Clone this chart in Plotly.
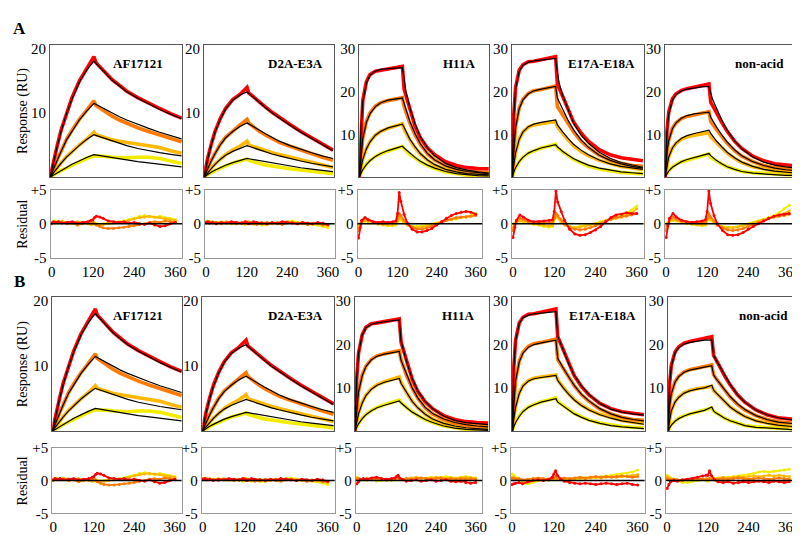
import plotly.graph_objects as go

W, H = 800, 535

# time grids (s)
T = [0, 5, 10, 20, 30, 45, 60, 80, 100, 120, 125, 130, 140, 155, 170, 190, 210, 240, 270, 300, 330, 360]
RT = [0, 5, 10, 20, 30, 45, 60, 75, 90, 105, 115, 120, 125, 130, 140, 150, 165, 180, 195, 210,
      225, 240, 255, 270, 285, 300, 315, 330, 345, 360]

NAMES = ["AF17121", "D2A-E3A", "H11A", "E17A-E18A", "non-acid"]
# concentration order: highest (red) -> lowest (yellow)
COLORS = ["#FF0000", "#FF7A00", "#FFB800", "#F2EC00"]
XTICKS = [0, 120, 240, 360]

# ---------------- sensorgram data (same in A and B) ----------------
AF17121_DATA = [
    [0, 1.4, 2.7, 5.0, 7.3, 10.0, 12.4, 15.0, 16.9, 18.8, 17.9, 17.6, 17.0, 16.1, 15.2, 14.3, 13.4, 12.4, 11.5, 10.7, 9.9, 9.2],
    [0, 0.8, 1.5, 2.8, 4.0, 5.9, 7.3, 9.0, 10.4, 11.9, 11.2, 11.0, 10.6, 10.0, 9.5, 8.9, 8.4, 7.7, 7.1, 6.6, 6.0, 5.5],
    [0, 0.4, 0.8, 1.5, 2.2, 3.2, 4.0, 5.0, 5.9, 7.0, 6.6, 6.5, 6.3, 6.0, 5.8, 5.6, 5.4, 5.1, 4.9, 4.6, 4.1, 3.7],
    [0, 0.2, 0.4, 0.7, 1.0, 1.4, 1.9, 2.4, 2.9, 3.3, 3.3, 3.3, 3.3, 3.2, 3.1, 3.0, 3.0, 3.1, 3.1, 2.9, 2.5, 2.1],
]
D2A_E3A_DATA = [
    [0, 1.6, 2.9, 5.1, 7.0, 9.1, 10.7, 12.1, 12.9, 14.0, 13.1, 12.9, 12.4, 11.7, 11.0, 10.1, 9.3, 8.2, 7.1, 6.1, 5.1, 4.2],
    [0, 0.8, 1.4, 2.6, 3.7, 5.1, 6.2, 7.2, 8.1, 9.0, 8.4, 8.2, 7.7, 7.1, 6.6, 6.0, 5.4, 4.8, 4.2, 3.6, 3.1, 2.6],
    [0, 0.4, 0.8, 1.4, 2.0, 2.8, 3.5, 4.2, 4.8, 5.6, 5.0, 4.9, 4.7, 4.4, 4.1, 3.8, 3.5, 3.1, 2.7, 2.3, 1.9, 1.5],
    [0, 0.2, 0.4, 0.7, 1.0, 1.4, 1.8, 2.2, 2.5, 2.8, 2.6, 2.5, 2.3, 2.1, 1.9, 1.7, 1.5, 1.3, 1.1, 0.9, 0.7, 0.5],
]
H11A_DATA = [
    [0, 12.0, 18.0, 22.3, 24.0, 24.8, 25.0, 25.3, 25.6, 25.9, 20.5, 19.0, 15.8, 12.0, 9.2, 6.8, 5.2, 3.6, 2.7, 2.2, 2.0, 1.9],
    [0, 5.6, 9.2, 13.0, 15.0, 16.6, 17.4, 17.9, 18.2, 18.6, 16.5, 15.3, 12.8, 9.9, 7.6, 5.4, 4.0, 2.7, 1.9, 1.4, 1.1, 1.0],
    [0, 2.4, 4.2, 6.7, 8.3, 9.8, 10.7, 11.4, 11.9, 12.5, 11.2, 10.4, 8.8, 6.9, 5.4, 3.9, 2.8, 1.8, 1.2, 0.8, 0.6, 0.5],
    [0, 1.0, 1.8, 3.0, 3.9, 4.8, 5.5, 6.1, 6.6, 7.2, 6.6, 6.2, 5.4, 4.5, 3.6, 2.7, 2.0, 1.2, 0.7, 0.4, 0.3, 0.2],
]
E17A_E18A_DATA = [
    [0, 14.5, 21.0, 25.0, 26.3, 27.0, 27.1, 27.4, 27.8, 28.2, 21.8, 20.8, 18.5, 15.4, 12.8, 10.3, 8.4, 6.4, 5.2, 4.5, 4.1, 3.8],
    [0, 7.2, 11.8, 16.2, 18.2, 19.6, 20.2, 20.5, 20.8, 21.3, 16.5, 15.8, 14.5, 12.4, 10.5, 8.4, 6.9, 5.1, 4.0, 3.2, 2.7, 2.5],
    [0, 3.1, 5.7, 8.9, 10.5, 11.7, 12.2, 12.5, 12.8, 13.0, 11.8, 11.2, 10.1, 8.6, 7.3, 6.0, 5.0, 3.9, 3.1, 2.5, 2.1, 1.8],
    [0, 1.2, 2.2, 3.6, 4.6, 5.6, 6.2, 6.8, 7.2, 7.7, 6.8, 6.5, 5.8, 4.9, 4.1, 3.3, 2.6, 1.9, 1.4, 1.1, 0.9, 0.8],
]
NON_ACID_DATA = [
    [0, 10.8, 15.2, 18.3, 19.5, 20.3, 20.7, 21.0, 21.3, 21.8, 17.5, 16.6, 15.2, 12.8, 10.7, 8.4, 6.7, 4.9, 3.8, 3.1, 2.8, 2.6],
    [0, 6.0, 8.7, 11.4, 12.7, 13.7, 14.2, 14.6, 14.9, 15.3, 13.0, 12.3, 11.2, 9.5, 7.9, 6.2, 4.9, 3.6, 2.7, 2.2, 1.9, 1.7],
    [0, 2.9, 4.8, 6.8, 7.9, 8.9, 9.4, 9.8, 10.1, 10.4, 9.4, 9.0, 8.1, 6.8, 5.6, 4.4, 3.4, 2.4, 1.8, 1.4, 1.2, 1.0],
    [0, 0.9, 1.5, 2.4, 3.0, 3.6, 4.0, 4.5, 4.9, 5.4, 4.6, 4.3, 3.7, 3.0, 2.4, 1.8, 1.3, 1.0, 0.8, 0.6, 0.5, 0.4],
]

# ---------------- fitted curves ----------------
AF17121_FIT = [
    [0, 1.3, 2.6, 4.9, 7.1, 9.9, 12.2, 14.8, 16.7, 18.1, 17.8, 17.5, 16.9, 16.0, 15.1, 14.2, 13.3, 12.3, 11.4, 10.55, 9.8, 9.1],
    [0, 0.7, 1.4, 2.7, 4.0, 5.8, 7.2, 8.9, 10.3, 11.5, 11.35, 11.2, 10.9, 10.4, 9.9, 9.4, 8.9, 8.2, 7.6, 7.0, 6.45, 5.95],
    [0, 0.38, 0.75, 1.45, 2.15, 3.1, 3.95, 4.95, 5.85, 6.6, 6.5, 6.4, 6.2, 5.9, 5.6, 5.25, 4.9, 4.45, 4.1, 3.8, 3.55, 3.3],
    [0, 0.18, 0.35, 0.7, 1.03, 1.5, 2.0, 2.55, 3.05, 3.5, 3.45, 3.4, 3.3, 3.15, 3.0, 2.8, 2.6, 2.4, 2.2, 2.0, 1.8, 1.6],
]
D2A_E3A_FIT = [
    [0, 1.5, 2.8, 5.0, 6.9, 9.0, 10.6, 12.0, 12.8, 13.3, 13.05, 12.8, 12.3, 11.6, 10.9, 10.0, 9.2, 8.1, 7.0, 6.0, 5.0, 4.1],
    [0, 0.7, 1.35, 2.5, 3.6, 5.0, 6.1, 7.1, 7.9, 8.45, 8.3, 8.15, 7.8, 7.3, 6.8, 6.2, 5.6, 4.9, 4.3, 3.8, 3.3, 2.9],
    [0, 0.35, 0.7, 1.35, 1.95, 2.75, 3.4, 4.0, 4.5, 4.9, 4.8, 4.7, 4.5, 4.2, 3.95, 3.6, 3.3, 2.85, 2.5, 2.15, 1.85, 1.6],
    [0, 0.2, 0.4, 0.75, 1.05, 1.5, 1.85, 2.25, 2.6, 2.9, 2.85, 2.8, 2.65, 2.5, 2.35, 2.15, 1.95, 1.7, 1.45, 1.25, 1.05, 0.85],
]
H11A_FIT_A = [
    [0, 11.5, 17.5, 22.0, 23.8, 24.8, 25.2, 25.4, 25.5, 25.6, 22.5, 20.0, 16.5, 12.5, 9.5, 6.8, 5.0, 3.2, 2.2, 1.6, 1.2, 0.9],
    [0, 5.5, 9.0, 12.8, 14.8, 16.5, 17.4, 18.0, 18.3, 18.5, 17.2, 15.8, 13.2, 10.2, 7.8, 5.5, 4.0, 2.6, 1.8, 1.3, 1.0, 0.8],
    [0, 2.3, 4.1, 6.6, 8.2, 9.8, 10.7, 11.5, 12.0, 12.4, 11.6, 10.7, 9.0, 7.1, 5.5, 4.0, 2.9, 1.8, 1.2, 0.8, 0.6, 0.5],
    [0, 0.9, 1.7, 2.9, 3.8, 4.8, 5.5, 6.2, 6.7, 7.2, 6.8, 6.4, 5.6, 4.6, 3.7, 2.8, 2.1, 1.3, 0.8, 0.5, 0.35, 0.25],
]
H11A_FIT_B = [
    [0, 12.3, 18.0, 22.2, 23.9, 24.7, 25.0, 25.3, 25.5, 25.7, 20.8, 19.2, 16.0, 12.2, 9.3, 6.9, 5.2, 3.5, 2.5, 2.0, 1.7, 1.5],
    [0, 5.4, 9.0, 12.8, 14.9, 16.5, 17.3, 17.8, 18.1, 18.4, 16.3, 15.2, 12.9, 10.0, 7.7, 5.5, 4.1, 2.8, 2.0, 1.5, 1.2, 1.0],
    [0, 2.2, 4.0, 6.5, 8.2, 9.7, 10.6, 11.3, 11.8, 12.2, 11.0, 10.3, 8.8, 6.9, 5.4, 3.9, 2.8, 1.8, 1.2, 0.8, 0.6, 0.4],
    [0, 0.9, 1.7, 2.9, 3.8, 4.7, 5.4, 6.0, 6.5, 7.0, 6.5, 6.1, 5.4, 4.4, 3.6, 2.7, 2.0, 1.2, 0.7, 0.4, 0.3, 0.2],
]
E17A_E18A_FIT_A = [
    [0, 14.0, 20.5, 24.8, 26.2, 26.9, 27.2, 27.4, 27.6, 27.8, 24.5, 22.0, 19.0, 15.5, 12.5, 9.8, 7.9, 5.8, 4.4, 3.4, 2.8, 2.3],
    [0, 7.0, 11.5, 16.0, 18.0, 19.5, 20.2, 20.6, 20.9, 21.2, 18.5, 17.5, 15.8, 13.2, 11.0, 8.7, 7.0, 5.1, 3.9, 3.1, 2.5, 2.1],
    [0, 3.0, 5.6, 8.8, 10.5, 11.8, 12.4, 12.8, 13.1, 13.4, 12.2, 11.6, 10.5, 9.0, 7.6, 6.3, 5.2, 4.0, 3.1, 2.5, 2.1, 1.8],
    [0, 1.2, 2.2, 3.6, 4.6, 5.6, 6.2, 6.8, 7.2, 7.6, 7.1, 6.7, 6.0, 5.1, 4.3, 3.5, 2.8, 2.1, 1.6, 1.2, 1.0, 0.8],
]
E17A_E18A_FIT_B = [
    [0, 14.3, 20.8, 24.9, 26.2, 26.8, 27.1, 27.3, 27.5, 27.6, 22.0, 20.9, 18.6, 15.5, 12.9, 10.4, 8.5, 6.4, 5.1, 4.4, 4.0, 3.7],
    [0, 7.0, 11.6, 16.0, 18.0, 19.4, 20.0, 20.4, 20.7, 21.0, 16.8, 16.0, 14.6, 12.5, 10.6, 8.5, 7.0, 5.2, 4.0, 3.2, 2.7, 2.4],
    [0, 3.0, 5.5, 8.7, 10.4, 11.6, 12.1, 12.4, 12.7, 12.9, 11.7, 11.1, 10.0, 8.5, 7.2, 5.9, 4.9, 3.8, 3.0, 2.4, 2.0, 1.6],
    [0, 1.0, 2.0, 3.4, 4.5, 5.5, 6.1, 6.7, 7.1, 7.5, 6.7, 6.4, 5.7, 4.8, 4.0, 3.2, 2.5, 1.8, 1.3, 1.0, 0.8, 0.6],
]
NON_ACID_FIT_A = [
    [0, 10.5, 14.8, 18.0, 19.3, 20.2, 20.6, 20.9, 21.1, 21.2, 19.4, 18.2, 16.3, 13.4, 11.0, 8.5, 6.6, 4.7, 3.5, 2.8, 2.4, 2.1],
    [0, 5.8, 8.5, 11.3, 12.7, 13.8, 14.4, 14.8, 15.0, 15.2, 14.0, 13.2, 11.8, 9.9, 8.2, 6.4, 5.0, 3.6, 2.7, 2.1, 1.7, 1.5],
    [0, 2.8, 4.7, 6.8, 8.0, 9.1, 9.7, 10.2, 10.6, 11.0, 10.2, 9.6, 8.5, 7.1, 5.8, 4.5, 3.5, 2.5, 1.8, 1.4, 1.1, 0.9],
    [0, 0.8, 1.4, 2.3, 2.9, 3.6, 4.1, 4.6, 5.0, 5.5, 5.0, 4.6, 3.9, 3.1, 2.4, 1.8, 1.3, 0.9, 0.7, 0.5, 0.4, 0.35],
]
NON_ACID_FIT_B = [
    [0, 10.6, 15.0, 18.1, 19.3, 20.1, 20.5, 20.8, 21.0, 21.1, 17.6, 16.7, 15.2, 12.9, 10.8, 8.4, 6.7, 4.9, 3.8, 3.1, 2.7, 2.5],
    [0, 5.9, 8.6, 11.3, 12.6, 13.6, 14.1, 14.5, 14.8, 15.1, 13.0, 12.3, 11.2, 9.5, 8.0, 6.3, 5.0, 3.6, 2.7, 2.1, 1.8, 1.6],
    [0, 2.8, 4.7, 6.7, 7.8, 8.8, 9.3, 9.7, 10.0, 10.6, 9.5, 9.0, 8.1, 6.8, 5.6, 4.4, 3.4, 2.4, 1.8, 1.4, 1.1, 0.9],
    [0, 0.8, 1.4, 2.3, 2.9, 3.5, 4.0, 4.4, 4.8, 5.6, 4.7, 4.3, 3.7, 3.0, 2.4, 1.8, 1.3, 0.9, 0.7, 0.5, 0.4, 0.3],
]

# ---------------- residuals ----------------
AF17121_RES = [
    [0.1, 0.3, 0.2, 0.3, 0.1, 0.2, 0.3, 0.1, 0.2, 0.3, 0.5, 0.6, 0.9, 1.1, 1.0, 0.8, 0.4, 0.3, 0.2, 0.3, 0.1, 0.2, 0.0, -0.1, 0.1, -0.2, -0.4, -0.3, 0.0, 0.2],
    [0.0, 0.2, 0.1, 0.3, 0.2, 0.0, 0.1, -0.2, 0.0, 0.2, 0.1, 0.3, 0.0, -0.2, -0.4, -0.6, -0.7, -0.7, -0.6, -0.5, -0.4, -0.3, -0.1, 0.0, 0.2, 0.3, 0.2, 0.4, 0.3, 0.2],
    [0.1, 0.2, 0.3, 0.1, 0.4, 0.2, 0.1, 0.3, 0.2, 0.0, -0.1, 0.2, 0.1, -0.1, -0.2, -0.1, 0.0, 0.1, 0.2, 0.3, 0.5, 0.7, 0.9, 1.0, 1.1, 1.0, 0.9, 0.7, 0.6, 0.5],
    [0.0, 0.3, 0.4, 0.2, 0.3, 0.1, 0.2, 0.0, 0.2, 0.1, 0.0, -0.1, 0.1, 0.0, -0.1, 0.0, 0.2, 0.1, 0.3, 0.4, 0.6, 0.8, 1.1, 1.2, 1.0, 0.9, 1.1, 0.9, 0.8, 0.6],
]
D2A_E3A_RES = [
    [0.2, 0.3, 0.1, 0.2, 0.0, 0.2, 0.1, 0.3, 0.2, 0.1, 0.3, 0.2, 0.0, 0.1, 0.3, 0.2, 0.1, 0.0, 0.2, 0.1, 0.3, 0.2, 0.1, 0.0, 0.2, 0.1, 0.0, 0.2, 0.1, -0.1],
    [0.1, 0.2, 0.3, 0.1, 0.2, 0.0, 0.2, 0.1, 0.0, 0.2, 0.1, 0.3, 0.2, 0.0, 0.1, -0.1, 0.0, 0.2, 0.1, 0.0, -0.1, 0.1, 0.2, 0.0, 0.1, -0.1, 0.0, 0.1, -0.2, -0.1],
    [0.3, 0.2, 0.1, 0.3, 0.2, 0.1, 0.3, 0.2, 0.1, 0.0, 0.2, 0.1, 0.3, 0.2, 0.0, 0.1, 0.2, -0.1, 0.0, 0.1, 0.2, 0.3, 0.1, 0.2, 0.0, -0.1, 0.1, 0.0, -0.2, -0.3],
    [0.2, 0.4, 0.3, 0.1, 0.2, 0.3, 0.1, 0.0, 0.2, 0.1, -0.1, 0.0, 0.2, 0.1, -0.1, 0.0, -0.2, -0.1, 0.1, 0.2, 0.0, 0.3, 0.4, 0.2, 0.1, 0.0, -0.1, -0.2, -0.4, -0.6],
]
H11A_RES_A = [
    [-2.1, -0.6, 0.5, 0.9, 0.6, 0.3, 0.2, 0.3, 0.2, 0.3, 0.4, 1.5, 4.6, 3.3, 1.4, 0.1, -0.8, -1.2, -1.2, -1.0, -0.7, -0.2, 0.3, 0.8, 1.2, 1.5, 1.7, 1.8, 1.7, 1.4],
    [-1.0, -0.3, 0.3, 0.7, 0.5, 0.3, 0.1, 0.0, 0.1, 0.2, 0.3, 0.8, 1.5, 1.2, 0.5, 0.0, -0.5, -0.8, -0.8, -0.6, -0.4, -0.1, 0.2, 0.5, 0.7, 0.9, 1.0, 1.0, 1.1, 1.2],
    [-0.5, 0.0, 0.3, 0.5, 0.4, 0.2, 0.0, -0.1, -0.2, -0.2, 0.0, 0.5, 1.0, 0.8, 0.2, -0.2, -0.5, -0.6, -0.5, -0.4, -0.2, 0.0, 0.3, 0.5, 0.6, 0.8, 0.9, 1.0, 1.1, 1.3],
    [-0.3, 0.1, 0.3, 0.4, 0.3, 0.1, -0.1, -0.2, -0.3, -0.3, -0.2, 0.3, 0.6, 0.5, 0.1, -0.2, -0.4, -0.4, -0.3, -0.2, 0.0, 0.1, 0.3, 0.5, 0.6, 0.7, 0.9, 1.0, 1.2, 1.5],
]
H11A_RES_B = [
    [-0.5, -0.2, 0.1, 0.3, 0.2, 0.4, 0.5, 0.3, 0.2, 0.3, 0.4, 0.6, 0.8, 0.4, 0.1, -0.1, 0.0, 0.1, -0.1, 0.0, 0.1, -0.1, 0.0, 0.1, -0.1, -0.2, -0.1, -0.3, -0.4, -0.3],
    [0.2, 0.3, 0.1, 0.2, 0.3, 0.1, 0.2, 0.3, 0.1, 0.2, 0.3, 0.4, 0.5, 0.3, 0.2, 0.3, 0.2, 0.3, 0.4, 0.3, 0.2, 0.3, 0.4, 0.2, 0.3, 0.2, 0.3, 0.2, 0.3, 0.2],
    [0.4, 0.3, 0.2, 0.1, 0.2, 0.3, 0.2, 0.1, 0.0, 0.1, 0.2, 0.3, 0.4, 0.3, 0.2, 0.3, 0.4, 0.5, 0.4, 0.3, 0.4, 0.5, 0.4, 0.3, 0.4, 0.3, 0.4, 0.5, 0.4, 0.3],
    [0.5, 0.3, 0.2, 0.1, 0.0, 0.1, -0.1, 0.0, 0.1, 0.0, 0.1, 0.2, 0.3, 0.2, 0.1, 0.2, 0.3, 0.4, 0.3, 0.4, 0.5, 0.4, 0.5, 0.6, 0.5, 0.4, 0.5, 0.6, 0.5, 0.4],
]
E17A_E18A_RES_A = [
    [-2.0, -0.5, 0.5, 1.3, 1.0, 0.5, 0.3, 0.3, 0.4, 0.5, 0.6, 1.8, 4.8, 3.2, 1.8, 0.5, -0.8, -1.5, -1.7, -1.6, -1.3, -0.9, -0.4, 0.3, 0.9, 1.3, 1.4, 1.6, 1.5, 1.5],
    [-1.0, -0.2, 0.4, 0.8, 0.6, 0.3, 0.2, 0.1, 0.1, 0.2, 0.3, 0.8, 1.5, 1.2, 0.6, 0.0, -0.6, -0.8, -0.9, -0.8, -0.6, -0.3, 0.0, 0.4, 0.7, 0.9, 1.0, 1.1, 1.3, 1.5],
    [-0.6, 0.0, 0.3, 0.5, 0.4, 0.2, 0.0, -0.1, -0.2, -0.3, -0.2, 0.8, 1.5, 1.0, 0.3, -0.2, -0.5, -0.6, -0.5, -0.4, -0.2, 0.0, 0.2, 0.4, 0.6, 0.8, 1.0, 1.2, 1.6, 2.2],
    [-0.4, 0.1, 0.3, 0.4, 0.3, 0.1, -0.1, -0.2, -0.4, -0.5, -0.4, 0.6, 1.2, 0.8, 0.2, -0.1, -0.4, -0.5, -0.4, -0.3, -0.1, 0.1, 0.3, 0.5, 0.7, 0.9, 1.2, 1.5, 2.0, 2.6],
]
E17A_E18A_RES_B = [
    [-0.6, -0.5, -0.4, -0.3, -0.5, -0.2, 0.0, 0.1, 0.0, 0.2, 0.5, 1.0, 1.5, 0.8, 0.2, -0.1, -0.3, -0.4, -0.5, -0.4, -0.5, -0.6, -0.5, -0.4, -0.5, -0.6, -0.5, -0.4, -0.6, -0.7],
    [0.3, 0.4, 0.2, 0.3, 0.1, 0.2, 0.3, 0.4, 0.3, 0.2, 0.3, 0.5, 0.6, 0.4, 0.3, 0.4, 0.3, 0.4, 0.5, 0.4, 0.5, 0.6, 0.5, 0.6, 0.5, 0.6, 0.7, 0.6, 0.5, 0.6],
    [0.5, 0.4, 0.3, 0.2, 0.0, -0.2, 0.0, 0.1, 0.2, 0.1, 0.2, 0.3, 0.4, 0.3, 0.2, 0.3, 0.2, 0.3, 0.4, 0.3, 0.4, 0.5, 0.4, 0.5, 0.6, 0.5, 0.6, 0.7, 0.8, 0.9],
    [1.0, 0.8, 0.5, 0.2, -0.2, -0.5, -0.3, 0.0, 0.1, 0.0, 0.1, 0.2, 0.3, 0.2, 0.1, 0.2, 0.3, 0.2, 0.3, 0.4, 0.5, 0.4, 0.6, 0.7, 0.8, 0.9, 1.0, 1.1, 1.3, 1.6],
]
NON_ACID_RES_A = [
    [-2.0, -0.3, 0.8, 1.5, 1.0, 0.5, 0.3, 0.2, 0.3, 0.4, 0.6, 1.8, 4.8, 3.0, 1.2, 0.0, -1.0, -1.6, -1.7, -1.6, -1.3, -0.8, -0.4, 0.0, 0.4, 0.8, 1.1, 1.3, 1.4, 1.5],
    [-1.0, -0.1, 0.5, 1.0, 0.7, 0.4, 0.2, 0.1, 0.2, 0.3, 0.3, 0.8, 1.5, 1.0, 0.4, -0.2, -0.6, -0.9, -1.0, -0.9, -0.7, -0.4, -0.1, 0.2, 0.5, 0.8, 1.0, 1.1, 1.2, 1.4],
    [-0.6, 0.1, 0.4, 0.6, 0.5, 0.3, 0.1, 0.0, -0.1, -0.2, -0.1, 0.6, 1.1, 0.7, 0.2, -0.2, -0.5, -0.6, -0.6, -0.5, -0.3, -0.1, 0.1, 0.3, 0.6, 0.8, 1.0, 1.2, 1.5, 1.9],
    [-0.3, 0.2, 0.4, 0.5, 0.4, 0.2, 0.0, -0.1, -0.2, -0.3, -0.2, 0.4, 0.8, 0.5, 0.1, -0.2, -0.4, -0.5, -0.5, -0.4, -0.2, 0.0, 0.2, 0.4, 0.6, 0.9, 1.2, 1.6, 2.2, 2.7],
]
NON_ACID_RES_B = [
    [-1.2, -0.6, -0.2, 0.0, -0.1, 0.1, 0.2, 0.3, 0.5, 0.7, 0.8, 0.8, 1.5, 0.8, 0.1, -0.2, -0.3, -0.2, -0.4, -0.3, -0.2, -0.3, -0.2, -0.1, -0.2, -0.3, -0.1, -0.2, -0.3, -0.2],
    [0.3, 0.2, 0.1, 0.2, 0.1, 0.0, 0.1, 0.2, 0.3, 0.2, 0.1, 0.2, 0.3, 0.2, 0.1, 0.2, 0.3, 0.2, 0.3, 0.4, 0.3, 0.2, 0.3, 0.4, 0.3, 0.2, 0.3, 0.4, 0.3, 0.2],
    [0.6, 0.4, 0.3, 0.2, 0.1, 0.0, 0.1, 0.2, 0.1, 0.2, 0.3, 0.2, 0.3, 0.4, 0.3, 0.4, 0.5, 0.4, 0.5, 0.6, 0.5, 0.6, 0.7, 0.6, 0.7, 0.8, 0.7, 0.8, 0.7, 0.6],
    [0.8, 0.6, 0.4, 0.2, 0.0, -0.3, -0.3, -0.1, 0.0, 0.1, 0.0, -0.1, 0.2, 0.1, 0.2, 0.3, 0.4, 0.5, 0.6, 0.7, 0.8, 0.9, 1.1, 1.3, 1.4, 1.3, 1.4, 1.5, 1.6, 1.7],
]

DATA = [AF17121_DATA, D2A_E3A_DATA, H11A_DATA, E17A_E18A_DATA, NON_ACID_DATA]
PANELS = {
    "A": dict(fit=[AF17121_FIT, D2A_E3A_FIT, H11A_FIT_A, E17A_E18A_FIT_A, NON_ACID_FIT_A],
              res=[AF17121_RES, D2A_E3A_RES, H11A_RES_A, E17A_E18A_RES_A, NON_ACID_RES_A]),
    "B": dict(fit=[AF17121_FIT, D2A_E3A_FIT, H11A_FIT_B, E17A_E18A_FIT_B, NON_ACID_FIT_B],
              res=[AF17121_RES, D2A_E3A_RES, H11A_RES_B, E17A_E18A_RES_B, NON_ACID_RES_B]),
}
YMAX = [20, 20, 30, 30, 30]
YTICKS = {20: [10, 20], 30: [10, 20, 30]}

# geometry in pixels
GEOM = {
    "A": dict(lefts=[39.5, 195, 351.7, 506, 660.7], rights=[173, 326, 483.3, 639, 794.3],
              rlefts=[40, 196, 350, 506, 660.7], rrights=[173, 327, 476, 639, 793],
              main=(30, 166), res=(179, 249.3), label_y=12.5),
    "B": dict(lefts=[41.7, 193.3, 347.3, 506, 663.3], rights=[173, 326.5, 482.7, 640, 797.7],
              rlefts=[41.7, 192.7, 348.3, 505, 661.7], rrights=[172.3, 327, 476, 640, 793],
              main=(290, 428), res=(445, 512.7), label_y=274),
}
TITLE_OFF = [17, 9, 13, 7, 11]
RES_XRANGE = [-3, 380]

SERIF = "Liberation Serif, Times New Roman, serif"
fig = go.Figure()
layout = dict(width=W, height=H, margin=dict(l=0, r=0, t=0, b=0), autosize=False,
              plot_bgcolor="white", paper_bgcolor="white", showlegend=False)
annotations = []
shapes = []


def xd(px):
    return px / W


def yd(px):
    return 1 - px / H


n = 0
for pname in ["A", "B"]:
    g = GEOM[pname]
    for k in range(5):
        # main sensorgram axis
        n += 1
        xa, ya = ("xaxis" if n == 1 else f"xaxis{n}"), ("yaxis" if n == 1 else f"yaxis{n}")
        xr, yr = ("x" if n == 1 else f"x{n}"), ("y" if n == 1 else f"y{n}")
        ymax = YMAX[k]
        layout[xa] = dict(domain=[xd(g["lefts"][k]), xd(g["rights"][k])], anchor=yr,
                          range=[0, 362], showticklabels=False, ticks="", showgrid=False,
                          zeroline=False, showline=True, mirror=True, linecolor="#555", linewidth=1)
        layout[ya] = dict(domain=[yd(g["main"][1]), yd(g["main"][0])], anchor=xr,
                          range=[0, ymax * 1.03], tickvals=YTICKS[ymax], ticks="", showgrid=False,
                          zeroline=False, showline=True, mirror=True, linecolor="#555", linewidth=1,
                          tickfont=dict(family=SERIF, size=15, color="black"))
        for c in [3, 2, 1, 0]:
            fig.add_trace(go.Scatter(x=T, y=DATA[k][c], mode="lines", xaxis=xr, yaxis=yr,
                                     line=dict(color=COLORS[c], width=3.6), hoverinfo="skip"))
        for c in [3, 2, 1, 0]:
            fig.add_trace(go.Scatter(x=T, y=PANELS[pname]["fit"][k][c], mode="lines", xaxis=xr, yaxis=yr,
                                     line=dict(color="black", width=1.2), hoverinfo="skip"))
        annotations.append(dict(text=f"<b>{NAMES[k]}</b>", xref="paper", yref="paper",
                                x=xd(g["rights"][k] - TITLE_OFF[k]), y=yd(g["main"][0] + 19),
                                xanchor="right", yanchor="middle", showarrow=False,
                                font=dict(family=SERIF, size=13, color="black")))
        # residual axis
        m = n + 5
        xa2, ya2, xr2, yr2 = f"xaxis{m}", f"yaxis{m}", f"x{m}", f"y{m}"
        layout[xa2] = dict(domain=[xd(g["rlefts"][k]), xd(g["rrights"][k])], anchor=yr2,
                           range=RES_XRANGE, tickvals=XTICKS, ticks="", showgrid=False,
                           zeroline=False, showline=True, mirror=True, linecolor="#999", linewidth=1,
                           tickfont=dict(family=SERIF, size=15, color="black"))
        layout[ya2] = dict(domain=[yd(g["res"][1]), yd(g["res"][0])], anchor=xr2,
                           range=[-5, 5], tickvals=[-5, 0, 5], ticktext=["-5", "0", "+5"], ticks="",
                           showgrid=False, zeroline=False, showline=True, mirror=True,
                           linecolor="#999", linewidth=1,
                           tickfont=dict(family=SERIF, size=15, color="black"))
        for c in [3, 2, 1, 0]:
            fig.add_trace(go.Scatter(x=RT, y=PANELS[pname]["res"][k][c], mode="lines+markers",
                                     xaxis=xr2, yaxis=yr2, hoverinfo="skip",
                                     line=dict(color=COLORS[c], width=1.8),
                                     marker=dict(color=COLORS[c], size=3)))
        shapes.append(dict(type="line", xref=f"{xr2} domain", yref=yr2, x0=0, x1=1, y0=0, y1=0,
                           line=dict(color="black", width=1.6), layer="above"))
    n += 5
    # panel label and axis titles
    annotations.append(dict(text=f"<b>{pname}</b>", xref="paper", yref="paper", x=xd(9), y=yd(g["label_y"]),
                            xanchor="center", yanchor="middle", showarrow=False,
                            font=dict(family=SERIF, size=17, color="black")))
    annotations.append(dict(text="Response (RU)", xref="paper", yref="paper", x=xd(12),
                            y=yd((g["main"][0] + g["main"][1]) / 2), textangle=-90,
                            xanchor="center", yanchor="middle", showarrow=False,
                            font=dict(family=SERIF, size=14, color="black")))
    annotations.append(dict(text="Residual", xref="paper", yref="paper", x=xd(12),
                            y=yd((g["res"][0] + g["res"][1]) / 2), textangle=-90,
                            xanchor="center", yanchor="middle", showarrow=False,
                            font=dict(family=SERIF, size=14, color="black")))

layout["annotations"] = annotations
layout["shapes"] = shapes
fig.update_layout(**layout)
fig.write_html("out.html")
